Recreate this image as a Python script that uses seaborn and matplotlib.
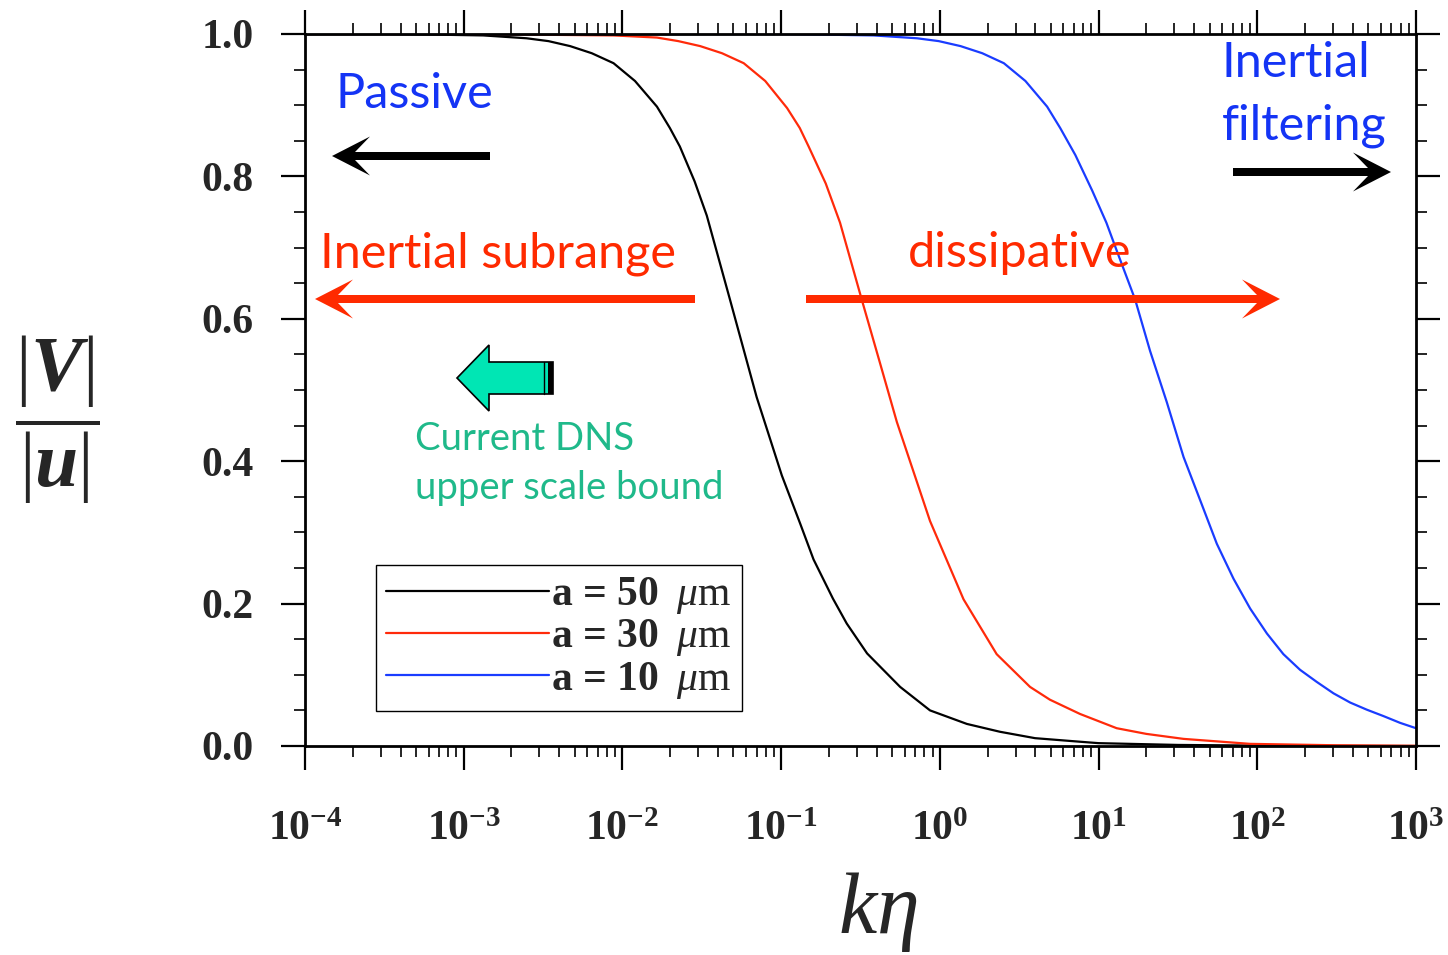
import numpy as np
import pandas as pd
import matplotlib
matplotlib.use("Agg")
import matplotlib.pyplot as plt
import seaborn as sns
from matplotlib.ticker import LogLocator, NullFormatter, MultipleLocator, FuncFormatter, FormatStrFormatter
from matplotlib.patches import Polygon, Rectangle
from matplotlib.lines import Line2D

# ---------------- data ----------------
k_eta_50 = [1e-4, 3.16e-4, 7.10e-4, 1.33e-3, 2.49e-3, 3.42e-3, 4.68e-3, 6.41e-3, 8.79e-3,
            1.20e-2, 1.65e-2, 1.99e-2, 2.30e-2, 2.85e-2, 3.40e-2, 4.76e-2,
            7.01e-2, 0.101, 0.132, 0.160, 0.212, 0.259, 0.348, 0.562, 0.867, 1.48,
            2.39, 3.98, 7.64, 10.0, 31.6, 100.0, 316.0, 1000.0]
v_50 = [1.0, 1.0, 0.999, 0.998, 0.994, 0.990, 0.983, 0.973, 0.959,
        0.934, 0.898, 0.868, 0.842, 0.793, 0.745, 0.627,
        0.490, 0.380, 0.312, 0.262, 0.207, 0.172, 0.130, 0.083, 0.050, 0.031,
        0.020, 0.011, 0.006, 0.004, 0.0015, 0.0006, 0.0002, 0.0]

k_eta_30 = [1e-4, 1e-3, 8.79e-3, 1.65e-2, 2.25e-2, 3.09e-2, 4.24e-2, 5.81e-2, 7.94e-2,
            0.109, 0.131, 0.149, 0.191, 0.235, 0.322, 0.417, 0.536, 0.867, 1.41,
            2.28, 3.70, 4.94, 7.64, 13.0, 20.0, 34.3, 90.2, 316.0, 1000.0]
v_30 = [1.0, 1.0, 0.998, 0.995, 0.990, 0.983, 0.973, 0.959, 0.934,
        0.896, 0.868, 0.842, 0.790, 0.735, 0.627, 0.540, 0.455, 0.316, 0.206,
        0.129, 0.083, 0.065, 0.045, 0.025, 0.017, 0.010, 0.003, 0.001, 0.0003]

k_eta_10 = [1e-4, 0.1, 0.383, 0.718, 0.984, 1.35, 1.85, 2.53, 3.46, 4.74, 5.73, 7.14,
            9.12, 11.2, 13.0, 17.0, 21.1, 26.9, 34.3, 43.7, 55.6, 70.8, 90.2, 115.0,
            146.0, 186.0, 237.0, 302.0, 385.0, 490.0, 624.0, 794.0, 1000.0]
v_10 = [1.0, 1.0, 0.998, 0.994, 0.990, 0.983, 0.973, 0.959, 0.934, 0.898, 0.868, 0.830,
        0.780, 0.735, 0.696, 0.627, 0.555, 0.483, 0.406, 0.345, 0.284, 0.235, 0.193, 0.158,
        0.129, 0.107, 0.090, 0.074, 0.061, 0.051, 0.042, 0.0325, 0.025]

series_labels = [r"a = 50 $\;\mu\mathrm{m}$", r"a = 30 $\;\mu\mathrm{m}$", r"a = 10 $\;\mu\mathrm{m}$"]
series_colors = ["#000000", "#ff2a0a", "#1a3cff"]

x_range = (1e-4, 1e3)

# ---------------- style ----------------
sns.set_style("ticks")
plt.rcParams["font.family"] = ["Liberation Serif", "DejaVu Sans"]
plt.rcParams["font.weight"] = "bold"
plt.rcParams["mathtext.fontset"] = "custom"
plt.rcParams["mathtext.rm"] = "Liberation Serif:normal"
plt.rcParams["mathtext.it"] = "Liberation Serif:italic:normal"
plt.rcParams["mathtext.bf"] = "Liberation Serif:bold"
plt.rcParams["mathtext.bfit"] = "Liberation Serif:italic:bold"

W, H = 1448, 955
fig = plt.figure(figsize=(W / 100, H / 100), dpi=100)
fig.patch.set_facecolor("white")


def fx(px):
    return px / W


def fy(py):
    return 1 - py / H


ax = fig.add_axes([fx(305), fy(746), fx(1416) - fx(305), fy(34) - fy(746)])
ax.set_xscale("log")

for ks, vs, lab, col in zip([k_eta_50, k_eta_30, k_eta_10], [v_50, v_30, v_10],
                            series_labels, series_colors):
    df = pd.DataFrame({"k": ks, "v": vs})
    sns.lineplot(data=df, x="k", y="v", color=col, linewidth=1.6, label=lab,
                 estimator=None, sort=True, ax=ax)

ax.set_xlim(*x_range)
ax.set_ylim(0, 1)
ax.set_xlabel("")
ax.set_ylabel("")

# ticks
ax.yaxis.set_major_locator(MultipleLocator(0.2))
ax.yaxis.set_minor_locator(MultipleLocator(0.05))
ax.yaxis.set_major_formatter(FormatStrFormatter("%.1f"))
ax.xaxis.set_major_locator(LogLocator(base=10, numticks=20))
ax.xaxis.set_minor_locator(LogLocator(base=10, subs=np.arange(2, 10), numticks=200))
ax.xaxis.set_minor_formatter(NullFormatter())
ax.xaxis.set_major_formatter(FuncFormatter(lambda v, p: r"$\mathbf{10^{%d}}$" % int(round(np.log10(v)))))

ax.tick_params(which="major", direction="out", length=17, width=1.6,
               top=True, right=True, color="black")
ax.tick_params(which="minor", direction="out", length=8, width=1.2,
               top=True, right=True, color="black")
ax.tick_params(axis="y", which="major", pad=20, labelsize=30)
ax.tick_params(axis="x", which="major", pad=30, labelsize=30)
for lbl in ax.get_yticklabels():
    lbl.set_fontweight("bold")
for s in ax.spines.values():
    s.set_linewidth(2.0)
    s.set_color("black")

# legend
leg = ax.legend(loc="lower left", bbox_to_anchor=(0.0639, 0.049), borderaxespad=0,
                handlelength=3.9, handletextpad=0.05, labelspacing=0.03,
                frameon=True, fancybox=False, edgecolor="black", framealpha=1,
                borderpad=0.25, prop={"family": "Liberation Serif", "weight": "bold", "size": 30})
leg.get_frame().set_linewidth(1.0)

# axis labels
fig.text(fx(57), fy(420), r"$\dfrac{|\mathbfit{V}|}{|\mathbfit{u}|}$", fontsize=56,
         ha="center", va="center")
fig.text(fx(878), fy(912), r"$k\eta$", fontsize=62, ha="center", va="center")

# ---------------- annotations ----------------
BLUE_T = "#1434f5"
RED_T = "#ff2a00"
GREEN_T = "#1fb98a"
ann = dict(family=["Lato", "DejaVu Sans"], weight="normal", fontsize=35)
fig.text(fx(336), fy(108), "Passive", color=BLUE_T, ha="left", va="baseline", **ann)
fig.text(fx(320), fy(267), "Inertial subrange", color=RED_T, ha="left", va="baseline", **ann)
fig.text(fx(908), fy(267), "dissipative", color=RED_T, ha="left", va="baseline", **ann)
fig.text(fx(1222), fy(77), "Inertial", color=BLUE_T, ha="left", va="baseline", **ann)
fig.text(fx(1222), fy(139), "filtering", color=BLUE_T, ha="left", va="baseline", **ann)
ann2 = dict(family=["Lato", "DejaVu Sans"], weight="normal", fontsize=27.5)
fig.text(fx(415), fy(450), "Current DNS", color=GREEN_T, ha="left", va="baseline", **ann2)
fig.text(fx(415), fy(499), "upper scale bound", color=GREEN_T, ha="left", va="baseline", **ann2)


def stealth(x_tail, x_tip, y, color, body=8, head_len=38, head_half=19.5, neck=23):
    d = np.sign(x_tip - x_tail)
    xb = x_tip - d * head_len
    xn = x_tip - d * neck
    pts = [(x_tail, y - body / 2), (xn, y - body / 2), (xb, y - head_half), (x_tip, y),
           (xb, y + head_half), (xn, y + body / 2), (x_tail, y + body / 2)]
    fig.add_artist(Polygon([(fx(a), fy(b)) for a, b in pts], closed=True,
                           transform=fig.transFigure, facecolor=color, edgecolor="none"))


stealth(490, 332, 156, "black")
stealth(1233, 1391, 172, "black")
stealth(695, 315, 299, "#ff2a00")
stealth(806, 1280, 299, "#ff2a00")

# green block arrow
g_pts = [(457, 378), (489, 345), (489, 362), (553, 362), (553, 394), (489, 394), (489, 411)]
fig.add_artist(Polygon([(fx(a), fy(b)) for a, b in g_pts], closed=True,
                       transform=fig.transFigure, facecolor="#00e6b4",
                       edgecolor="black", linewidth=1.2))
fig.add_artist(Rectangle((fx(548), fy(394)), fx(553) - fx(548), fy(362) - fy(394),
                         transform=fig.transFigure, facecolor="black", edgecolor="none"))
fig.add_artist(Line2D([fx(543.5), fx(543.5)], [fy(362), fy(394)], transform=fig.transFigure,
                      color="black", linewidth=1.0))

fig.savefig("out.png", dpi=100, facecolor="white")
